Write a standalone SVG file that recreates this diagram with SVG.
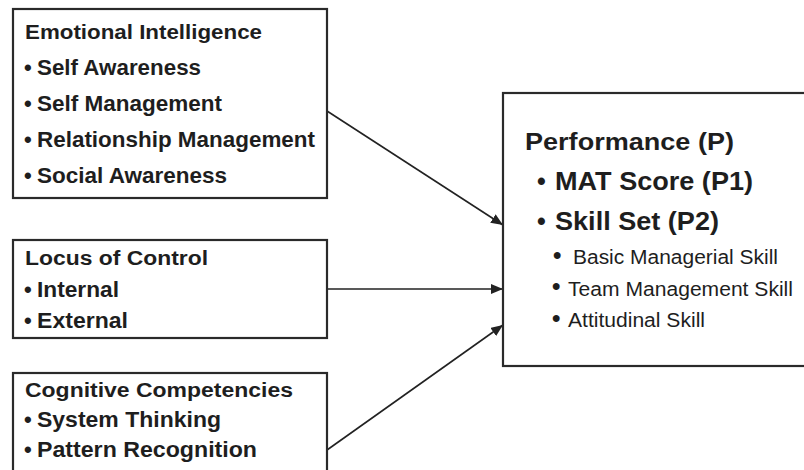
<svg xmlns="http://www.w3.org/2000/svg" width="804" height="470" viewBox="0 0 804 470">
<defs>
<marker id="ah" markerWidth="12" markerHeight="10" refX="12" refY="5" orient="auto" markerUnits="userSpaceOnUse">
<path d="M0,0 L12,5 L0,10 Z" fill="#222"/>
</marker>
<style>
.box{fill:#fff;stroke:#2a2a2a;stroke-width:2.2}
.t{font-family:"Liberation Sans",Arial,sans-serif;fill:#1e1e1e}
.h{font-size:20px;font-weight:bold}
.b{font-size:22px;font-weight:bold}
.ph{font-size:24px;font-weight:bold}
.pb{font-size:25px;font-weight:bold}
.s{font-size:20px}
.sb{font-size:24px;font-weight:bold}
.conn{stroke:#222;stroke-width:1.6;fill:none;marker-end:url(#ah)}
</style>
</defs>
<rect width="804" height="470" fill="#fff"/>
<g id="connectors">
<line class="conn" x1="327" y1="111" x2="503" y2="225"/>
<line class="conn" x1="327" y1="289" x2="503" y2="289"/>
<line class="conn" x1="327" y1="450" x2="503" y2="325"/>
</g>
<g id="emotional-intelligence">
<rect class="box" x="13" y="9" width="314" height="189"/>
<text class="t h" x="25" y="39" textLength="237" lengthAdjust="spacingAndGlyphs">Emotional Intelligence</text>
<text class="t b" y="75"><tspan x="24">•</tspan><tspan x="37" textLength="164" lengthAdjust="spacingAndGlyphs">Self Awareness</tspan></text>
<text class="t b" y="111"><tspan x="24">•</tspan><tspan x="37" textLength="185" lengthAdjust="spacingAndGlyphs">Self Management</tspan></text>
<text class="t b" y="147"><tspan x="24">•</tspan><tspan x="37" textLength="278" lengthAdjust="spacingAndGlyphs">Relationship Management</tspan></text>
<text class="t b" y="183"><tspan x="24">•</tspan><tspan x="37" textLength="190" lengthAdjust="spacingAndGlyphs">Social Awareness</tspan></text>
</g>
<g id="locus-of-control">
<rect class="box" x="13" y="240" width="314" height="98"/>
<text class="t h" x="25" y="265" textLength="183" lengthAdjust="spacingAndGlyphs">Locus of Control</text>
<text class="t b" y="297"><tspan x="24">•</tspan><tspan x="37" textLength="82" lengthAdjust="spacingAndGlyphs">Internal</tspan></text>
<text class="t b" y="328"><tspan x="24">•</tspan><tspan x="37" textLength="91" lengthAdjust="spacingAndGlyphs">External</tspan></text>
</g>
<g id="cognitive-competencies">
<rect class="box" x="13" y="373" width="314" height="110"/>
<text class="t h" x="25" y="397" textLength="268" lengthAdjust="spacingAndGlyphs">Cognitive Competencies</text>
<text class="t b" y="427"><tspan x="24">•</tspan><tspan x="37" textLength="184" lengthAdjust="spacingAndGlyphs">System Thinking</tspan></text>
<text class="t b" y="457"><tspan x="24">•</tspan><tspan x="37" textLength="220" lengthAdjust="spacingAndGlyphs">Pattern Recognition</tspan></text>
</g>
<g id="performance">
<rect class="box" x="503" y="93" width="320" height="273"/>
<text class="t ph" x="525" y="150" textLength="209" lengthAdjust="spacingAndGlyphs">Performance (P)</text>
<text class="t pb" y="190"><tspan x="537">•</tspan><tspan x="555" textLength="198" lengthAdjust="spacingAndGlyphs">MAT Score (P1)</tspan></text>
<text class="t pb" y="230"><tspan x="537">•</tspan><tspan x="555" textLength="164" lengthAdjust="spacingAndGlyphs">Skill Set (P2)</tspan></text>
<text class="t s" y="264"><tspan class="sb" x="553" y="263">•</tspan><tspan x="573" y="264" textLength="205" lengthAdjust="spacingAndGlyphs">Basic Managerial Skill</tspan></text>
<text class="t s" y="296"><tspan class="sb" x="552" y="294">•</tspan><tspan x="568" y="296" textLength="225" lengthAdjust="spacingAndGlyphs">Team Management Skill</tspan></text>
<text class="t s" y="327"><tspan class="sb" x="552" y="326">•</tspan><tspan x="568" y="327" textLength="137" lengthAdjust="spacingAndGlyphs">Attitudinal Skill</tspan></text>
</g>
</svg>
